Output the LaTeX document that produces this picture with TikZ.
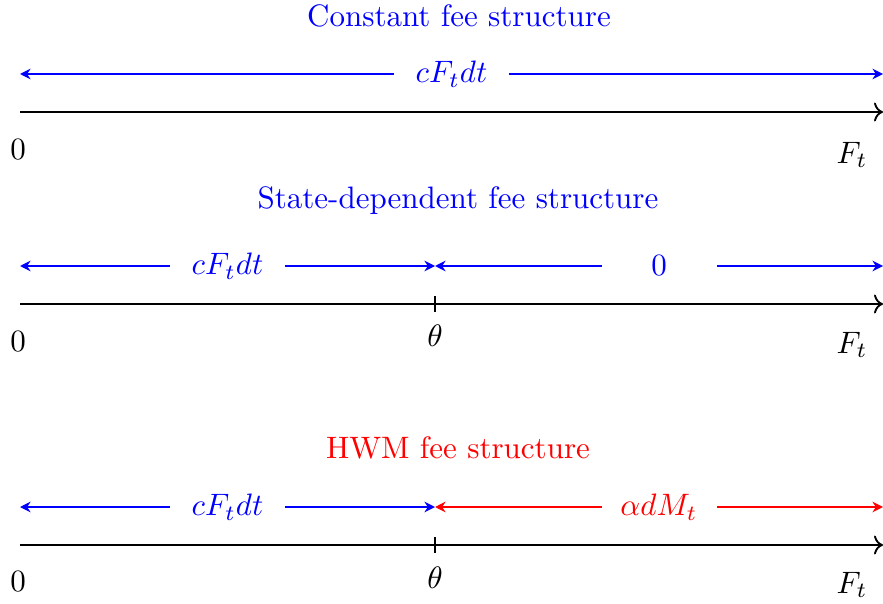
\documentclass[tikz,border=0pt]{standalone}
\usetikzlibrary{arrows.meta}
\begin{document}
\begin{tikzpicture}[x=0.3226pt,y=-0.3226pt,
  axisline/.style={black,line width=0.6pt,->},
  span/.style={line width=0.6pt,{Stealth[length=3.4pt,width=3.4pt]}-{Stealth[length=3.4pt,width=3.4pt]}},
  spanlabel/.style={fill=white,minimum width=37.1pt,inner sep=2pt},
  ticktxt/.style={inner sep=0pt},
  title/.style={inner sep=0pt},
  tickmark/.style={line width=0.6pt}]
\useasboundingbox (0,0) rectangle (883,603);
% ---- Row 1
\node[title,blue] (t1) at (459,16) {Constant fee structure};
\coordinate (a1l) at (20,74);
\coordinate (a1r) at (883,74);
\draw[span,blue] (a1l) -- node[spanlabel,text=blue] (l1) {$cF_tdt$} (a1r);
\coordinate (x1l) at (20,112);
\coordinate (x1r) at (883,112);
\draw[axisline] (x1l) -- (x1r);
\node[ticktxt] (z1) at (18,150) {$0$};
\node[ticktxt] (f1) at (852,155) {$F_t$};
% ---- Row 2
\node[title,blue] (t2) at (458,201) {State-dependent fee structure};
\coordinate (a2l) at (20,266);
\coordinate (a2m) at (435,266);
\coordinate (a2r) at (883,266);
\draw[span,blue] (a2l) -- node[spanlabel,text=blue] (l2a) {$cF_tdt$} (a2m);
\draw[span,blue] (a2m) -- node[spanlabel,text=blue] (l2b) {$0$} (a2r);
\coordinate (x2l) at (20,304);
\coordinate (x2m) at (435,304);
\coordinate (x2r) at (883,304);
\draw[axisline] (x2l) -- (x2r);
\draw[tickmark] ([yshift=-2.6pt]x2m) -- ([yshift=2.6pt]x2m);
\node[ticktxt] (z2) at (18,342) {$0$};
\node[ticktxt] (th2) at (435,336) {$\theta$};
\node[ticktxt] (f2) at (852,345) {$F_t$};
% ---- Row 3
\node[title,red] (t3) at (458,448) {HWM fee structure};
\coordinate (a3l) at (20,507);
\coordinate (a3m) at (435,507);
\coordinate (a3r) at (883,507);
\draw[span,blue] (a3l) -- node[spanlabel,text=blue] (l3a) {$cF_tdt$} (a3m);
\draw[span,red] (a3m) -- node[spanlabel,text=red] (l3b) {$\alpha dM_t$} (a3r);
\coordinate (x3l) at (20,545);
\coordinate (x3m) at (435,545);
\coordinate (x3r) at (883,545);
\draw[axisline] (x3l) -- (x3r);
\draw[tickmark] ([yshift=-2.6pt]x3m) -- ([yshift=2.6pt]x3m);
\node[ticktxt] (z3) at (18,582) {$0$};
\node[ticktxt] (th3) at (435,578) {$\theta$};
\node[ticktxt] (f3) at (852,585) {$F_t$};
\end{tikzpicture}
\end{document}
